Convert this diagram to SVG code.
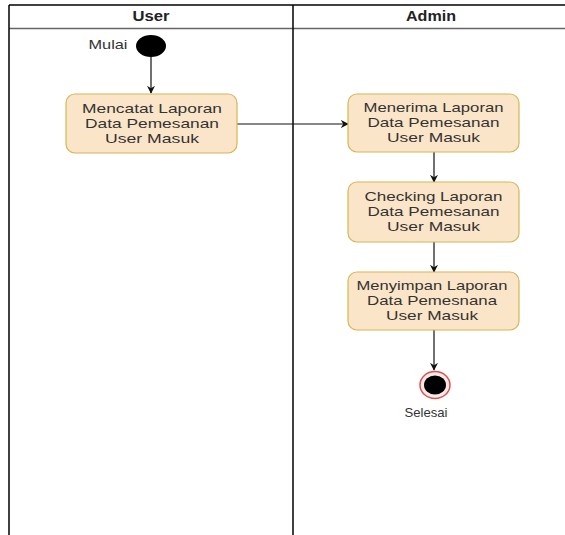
<svg xmlns="http://www.w3.org/2000/svg" width="565" height="535" viewBox="0 0 565 535">
<style>
text{font-family:"Liberation Sans",Arial,sans-serif;fill:#333;font-size:13.5px;text-anchor:middle}
.hdr{font-weight:bold;fill:#222;font-size:14px}
.act{fill:#fbe5c8;stroke:#d6b656;stroke-width:1.2}
.edge{stroke:#111;stroke-width:1.2;fill:none;marker-end:url(#arr)}
.lane{stroke:#000;stroke-width:1.5;fill:none}
</style>
<defs>
<marker id="arr" viewBox="0 0 10 10" refX="9" refY="5" markerWidth="8" markerHeight="8" markerUnits="userSpaceOnUse" orient="auto">
<path d="M0,0 L10,5 L0,10 L3,5 Z" fill="#111"/>
</marker>
</defs>
<rect width="565" height="535" fill="#fff"/>
<g id="lanes">
<line class="lane" x1="9" y1="5" x2="565" y2="5"/>
<line x1="9" y1="28.5" x2="565" y2="28.5" stroke="#666" stroke-width="1.5"/>
<line class="lane" x1="9" y1="5" x2="9" y2="535"/>
<line class="lane" x1="293" y1="5" x2="293" y2="535"/>
<text class="hdr" x="151" y="21" textLength="37" lengthAdjust="spacingAndGlyphs">User</text>
<text class="hdr" x="431" y="21" textLength="50" lengthAdjust="spacingAndGlyphs">Admin</text>
</g>
<g id="connectors">
<line class="edge" x1="151" y1="57" x2="151" y2="93"/>
<line class="edge" x1="237" y1="124" x2="348" y2="124"/>
<line class="edge" x1="434" y1="152" x2="434" y2="182"/>
<line class="edge" x1="434" y1="242" x2="434" y2="272"/>
<line class="edge" x1="434" y1="330" x2="434" y2="370"/>
</g>
<g id="start">
<ellipse cx="151" cy="46" rx="15" ry="11" fill="#000"/>
<text x="108" y="49" textLength="39" lengthAdjust="spacingAndGlyphs">Mulai</text>
</g>
<g id="mencatat">
<rect class="act" x="66" y="94" width="171" height="59" rx="9"/>
<text x="152" y="113" textLength="140" lengthAdjust="spacingAndGlyphs">Mencatat Laporan</text>
<text x="152" y="128" textLength="134" lengthAdjust="spacingAndGlyphs">Data Pemesanan</text>
<text x="152" y="143" textLength="94" lengthAdjust="spacingAndGlyphs">User Masuk</text>
</g>
<g id="menerima">
<rect class="act" x="348" y="94" width="171" height="58" rx="9"/>
<text x="433.5" y="112" textLength="140" lengthAdjust="spacingAndGlyphs">Menerima Laporan</text>
<text x="433.5" y="127" textLength="132" lengthAdjust="spacingAndGlyphs">Data Pemesanan</text>
<text x="433.5" y="142" textLength="93" lengthAdjust="spacingAndGlyphs">User Masuk</text>
</g>
<g id="checking">
<rect class="act" x="348" y="182" width="171" height="60" rx="9"/>
<text x="433.5" y="201" textLength="138" lengthAdjust="spacingAndGlyphs">Checking Laporan</text>
<text x="433.5" y="216" textLength="132" lengthAdjust="spacingAndGlyphs">Data Pemesanan</text>
<text x="433.5" y="231" textLength="93" lengthAdjust="spacingAndGlyphs">User Masuk</text>
</g>
<g id="menyimpan">
<rect class="act" x="348" y="272" width="171" height="58" rx="9"/>
<text x="432" y="290" textLength="151" lengthAdjust="spacingAndGlyphs">Menyimpan Laporan</text>
<text x="432" y="305" textLength="130" lengthAdjust="spacingAndGlyphs">Data Pemesnana</text>
<text x="432" y="320" textLength="92" lengthAdjust="spacingAndGlyphs">User Masuk</text>
</g>
<g id="end">
<ellipse cx="435" cy="385" rx="15" ry="13.5" fill="#fde8e8" stroke="#d9534f" stroke-width="1.5"/>
<ellipse cx="435" cy="385" rx="11" ry="9.5" fill="#000"/>
<text x="426" y="417" textLength="43" lengthAdjust="spacingAndGlyphs">Selesai</text>
</g>
</svg>
